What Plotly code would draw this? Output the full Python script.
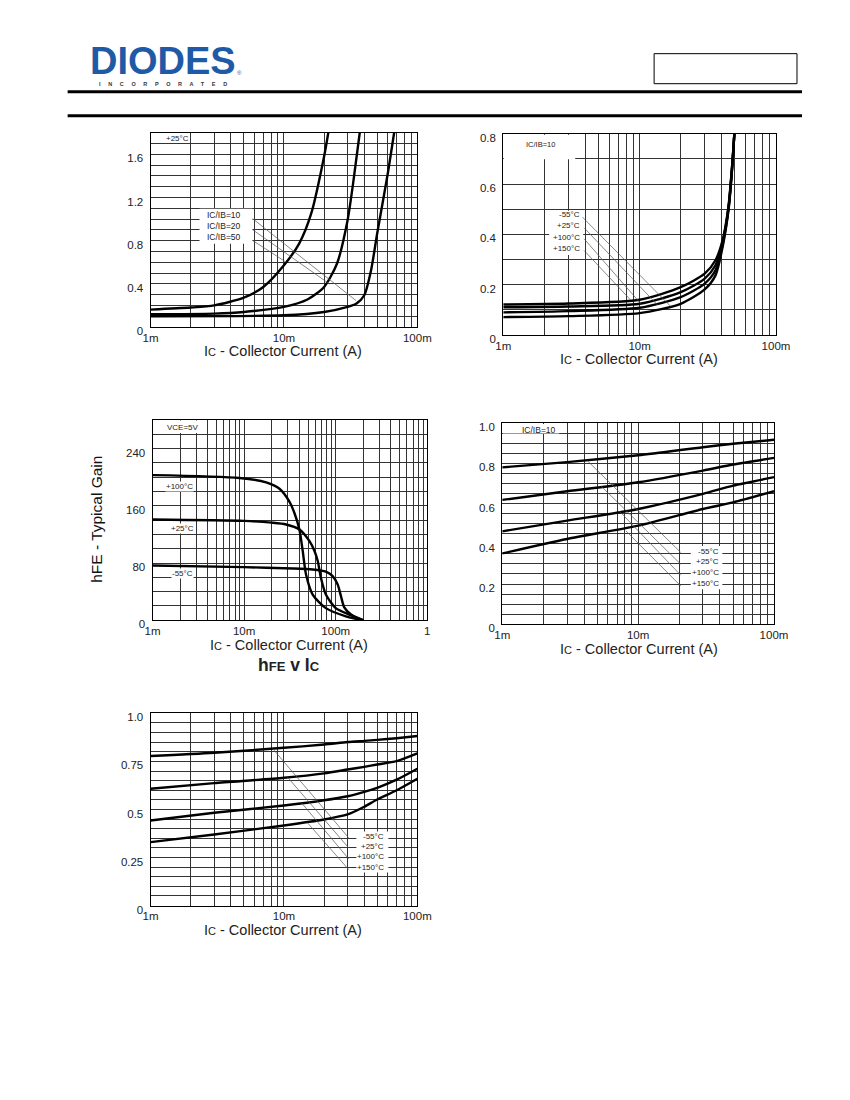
import plotly.graph_objects as go

W, H = 850, 1100

# ---- collector current points (mA) and read-off values ----
# VCE(sat) v IC at +25C, one curve per IC/IB ratio
sat_ic50_ma = [1, 2, 3, 5, 7, 10, 13, 16, 20, 21.5]
sat_ic50_v = [0.161, 0.18, 0.2, 0.272, 0.371, 0.572, 0.773, 1.05, 1.58, 1.8]
sat_ic20_ma = [1, 3, 5, 10, 15, 20, 25, 30, 33, 37]
sat_ic20_v = [0.118, 0.124, 0.139, 0.186, 0.254, 0.371, 0.588, 0.99, 1.33, 1.8]
sat_ic10_ma = [1, 10, 20, 30, 35, 40, 45, 50, 60, 67]
sat_ic10_v = [0.099, 0.108, 0.139, 0.186, 0.217, 0.294, 0.526, 0.866, 1.42, 1.8]

# VCE(sat) v IC at IC/IB=10, per temperature
vce_ma = [1, 3, 10, 20, 30, 36, 40.6, 44.8, 47.6, 49.5]
vce_150 = [0.121, 0.125, 0.14, 0.19, 0.244, 0.297, 0.377, 0.51, 0.67, 0.8]
vce_100 = [0.11, 0.113, 0.124, 0.17, 0.224, 0.277, 0.37, 0.505, 0.665, 0.8]
vce_25 = [0.09, 0.095, 0.108, 0.15, 0.204, 0.257, 0.36, 0.50, 0.66, 0.8]
vce_m55 = [0.071, 0.075, 0.087, 0.124, 0.181, 0.237, 0.35, 0.495, 0.655, 0.8]

# hFE v IC, VCE=5V
hfe100_ma = [1, 8.9, 17.4, 24.3, 31.2, 35.4, 40.1, 43.6, 47.4, 56, 78, 129, 200]
hfe100 = [203, 199, 193, 184, 166, 150, 127, 97, 64, 36, 17, 5.6, 0]
hfe25_ma = [1, 10, 19.9, 28.7, 40.1, 51.5, 58.6, 63.6, 69, 78, 100, 140, 200]
hfe25 = [141, 139, 136.5, 134, 127, 111, 97, 83, 59, 36, 17, 8, 0]
hfem55_ma = [1, 10, 34, 56, 78, 92, 105, 114, 124, 147, 200]
hfem55 = [76.7, 74.3, 72.5, 71, 68, 62, 50, 33.7, 18, 8, 0]

# VBE(sat) v IC at IC/IB=10
vbesat_ma = [1, 3, 10, 30, 50, 100]
vbesat_m55 = [0.78, 0.806, 0.84, 0.88, 0.897, 0.917]
vbesat_25 = [0.618, 0.661, 0.706, 0.764, 0.794, 0.827]
vbesat_100 = [0.462, 0.515, 0.573, 0.648, 0.689, 0.731]
vbesat_150 = [0.352, 0.424, 0.49, 0.573, 0.606, 0.661]

# VBE(on) v IC
vbeon_ma = [1, 3, 10, 20, 30, 40, 50, 70, 100]
vbeon_m55 = [0.778, 0.795, 0.821, 0.838, 0.851, 0.857, 0.862, 0.871, 0.882]
vbeon_25 = [0.608, 0.637, 0.665, 0.688, 0.708, 0.722, 0.734, 0.752, 0.792]
vbeon_100 = [0.443, 0.483, 0.521, 0.548, 0.569, 0.592, 0.613, 0.655, 0.712]
vbeon_150 = [0.33, 0.37, 0.417, 0.448, 0.474, 0.514, 0.552, 0.6, 0.66]

TXT = '#222222'
FONT = 'Liberation Sans, Arial, sans-serif'
BLUE = '#1f5aa6'

# the photographed page comes out slightly squeezed; positions below are
# given in page pixels and mapped back through this correction
SX, CX = 0.975, 8.3
SY, CY = 0.988, 3.4


def px(x):
    return (x - CX) / SX / W


def py(y):
    return 1 - (y - CY) / SY / H


fig = go.Figure()


def add_curve(ic_ma, vals, n):
    fig.add_trace(go.Scatter(
        x=[i / 1000 for i in ic_ma], y=vals, mode='lines',
        line=dict(color='black', width=2.4, shape='spline', smoothing=0.7),
        xaxis='x' + n, yaxis='y' + n, hoverinfo='skip'))


add_curve(sat_ic50_ma, sat_ic50_v, '')
add_curve(sat_ic20_ma, sat_ic20_v, '')
add_curve(sat_ic10_ma, sat_ic10_v, '')
for v in (vce_150, vce_100, vce_25, vce_m55):
    add_curve(vce_ma, v, '2')
add_curve(hfe100_ma, hfe100, '3')
add_curve(hfe25_ma, hfe25, '3')
add_curve(hfem55_ma, hfem55, '3')
for v in (vbesat_m55, vbesat_25, vbesat_100, vbesat_150):
    add_curve(vbesat_ma, v, '4')
for v in (vbeon_m55, vbeon_25, vbeon_100, vbeon_150):
    add_curve(vbeon_ma, v, '5')


def log_axis(left, right, decades, labels, anchor):
    vals, text = [], []
    for i, e in enumerate(decades[:-1]):
        for k in range(1, 10):
            vals.append(k * 10.0 ** e)
            text.append(labels[i] if k == 1 else '')
    vals.append(10.0 ** decades[-1])
    text.append(labels[-1])
    return dict(type='log', domain=[px(left), px(right)], range=[decades[0], decades[-1]],
                tickvals=vals, ticktext=text, showgrid=True, gridcolor='#333', gridwidth=1,
                showline=True, mirror=True, linecolor='black', linewidth=1,
                ticks='', tickfont=dict(size=11.5, color=TXT, family=FONT),
                anchor=anchor, zeroline=False, fixedrange=True)


def lin_axis(top, bottom, rng, vals, text, minor, anchor):
    return dict(domain=[py(bottom), py(top)], range=rng, tickvals=vals, ticktext=text,
                showgrid=True, gridcolor='#333', gridwidth=1,
                minor=dict(dtick=minor, tick0=0, showgrid=True, gridcolor='#333', gridwidth=1),
                showline=True, mirror=True, linecolor='black', linewidth=1,
                ticks='', ticklabelshift=4, ticklabelstandoff=4,
                tickfont=dict(size=11.5, color=TXT, family=FONT),
                anchor=anchor, zeroline=False, fixedrange=True)


fig.update_layout(
    width=W, height=H, margin=dict(l=0, r=0, t=0, b=0),
    paper_bgcolor='white', plot_bgcolor='white', showlegend=False,
    font=dict(family=FONT, color=TXT),
    xaxis=log_axis(151, 418, [-3, -2, -1], ['1m', '10m', '100m'], 'y'),
    yaxis=lin_axis(134, 328, [0, 1.8], [0, 0.4, 0.8, 1.2, 1.6],
                   ['0', '0.4', '0.8', '1.2', '1.6'], 0.1, 'x'),
    xaxis2=log_axis(504, 777, [-3, -2, -1], ['1m', '10m', '100m'], 'y2'),
    yaxis2=lin_axis(135, 336, [0, 0.8], [0, 0.2, 0.4, 0.6, 0.8],
                    ['0', '0.2', '0.4', '0.6', '0.8'], 0.1, 'x2'),
    xaxis3=log_axis(153, 428, [-3, -2, -1, 0], ['1m', '10m', '100m', '1'], 'y3'),
    yaxis3=lin_axis(421, 621, [0, 280], [0, 80, 160, 240],
                    ['0', '80', '160', '240'], 20, 'x3'),
    xaxis4=log_axis(503, 775, [-3, -2, -1], ['1m', '10m', '100m'], 'y4'),
    yaxis4=lin_axis(424, 625, [0, 1.0], [0, 0.2, 0.4, 0.6, 0.8, 1.0],
                    ['0', '0.2', '0.4', '0.6', '0.8', '1.0'], 0.05, 'x4'),
    xaxis5=log_axis(151, 418, [-3, -2, -1], ['1m', '10m', '100m'], 'y5'),
    yaxis5=lin_axis(714, 906, [0, 1.0], [0, 0.25, 0.5, 0.75, 1.0],
                    ['0', '0.25', '0.5', '0.75', '1.0'], 0.05, 'x5'),
)

shapes = []
annots = []


def line(x0, y0, x1, y1, w=0.7, c='#555'):
    shapes.append(dict(type='line', xref='paper', yref='paper', x0=px(x0), y0=py(y0),
                       x1=px(x1), y1=py(y1), line=dict(color=c, width=w), layer='above'))


def white_box(x0, y0, x1, y1):
    shapes.append(dict(type='rect', xref='paper', yref='paper', x0=px(x0), y0=py(y0),
                       x1=px(x1), y1=py(y1), fillcolor='white', line=dict(width=0), layer='above'))


def text(x, y, s, size=8, xanchor='center', color=TXT, bg=None, angle=0):
    a = dict(xref='paper', yref='paper', x=px(x), y=py(y), text=s, showarrow=False,
             xanchor=xanchor, yanchor='middle', textangle=angle,
             font=dict(size=size, color=color, family=FONT))
    if bg:
        a['bgcolor'] = bg
        a['borderpad'] = 0
    annots.append(a)


# ---- header ----
text(163, 62, '<b>DIODES</b>', size=38, color=BLUE)
text(163, 85, '<b>I     N     C     O     R     P     O     R     A     T     E     D</b>', size=5.5, color='#333')
text(240, 74, '®', size=6, color=BLUE)
shapes.append(dict(type='rect', xref='paper', yref='paper', x0=px(655), y0=py(55), x1=px(798), y1=py(85),
                   line=dict(color='black', width=1)))
for yy in (93, 117):
    shapes.append(dict(type='line', xref='paper', yref='paper', x0=px(68), y0=py(yy), x1=px(803), y1=py(yy),
                       line=dict(color='black', width=3)))

IC_TITLE = "I<span style='font-size:11px'>C</span> - Collector Current (A)"

# ---- chart 1 ----
white_box(151.5, 134.5, 190, 143)
text(178, 140, '+25°C', size=8)
white_box(200, 210, 253, 245)
text(244, 216, 'IC/IB=10', size=8.5, xanchor='right')
text(244, 227, 'IC/IB=20', size=8.5, xanchor='right')
text(244, 238.5, 'IC/IB=50', size=8.5, xanchor='right')
line(253.3, 220, 356.7, 301.7)
line(253.3, 231, 330, 285)
line(253.3, 241.7, 286.7, 263.3)
text(284, 352, IC_TITLE, size=14.5)

# ---- chart 2 ----
white_box(504.5, 136, 576, 160.5)
text(541, 146, 'IC/IB=10', size=7.5)
white_box(550, 212, 584, 256)
for yy, s in zip((216, 227, 238.5, 250), ('-55°C', '+25°C', '+100°C', '+150°C')):
    text(583, yy, s, size=8, xanchor='right')
line(583.3, 218.3, 671.7, 307.6)
line(585, 229, 658.3, 306)
line(585, 240, 641.7, 304.8)
line(585, 251.7, 631.7, 301.3)
text(640, 360, IC_TITLE, size=14.5)

# ---- chart 3 ----
white_box(153.5, 421.5, 203, 434)
text(183, 428, 'VCE=5V', size=8)
text(180, 487, '+100°C', size=8, bg='white')
text(183, 529, '+25°C', size=8, bg='white')
text(183, 574, '-55°C', size=8, bg='white')
text(290, 646, IC_TITLE, size=14.5)
text(290, 666, "<b>h<span style='font-size:13px'>FE</span> v I<span style='font-size:13px'>C</span></b>", size=17.5)
text(97, 520, "hFE - Typical Gain", size=15.5, angle=-90, color='#111')

# ---- chart 4 ----
white_box(503.5, 425, 560, 434.5)
text(540, 431, 'IC/IB=10', size=8.5)
white_box(691.7, 546.7, 723.3, 590)
for yy, s in zip((552.3, 562.5, 573, 584.5), ('-55°C', '+25°C', '+100°C', '+150°C')):
    text(721.5, yy, s, size=8, xanchor='right')
line(588.3, 461.7, 681.7, 553.3)
line(601.7, 486.7, 681.7, 565)
line(620, 511.7, 681.7, 576)
line(626.7, 531.7, 681.7, 586.7)
text(640, 650, IC_TITLE, size=14.5)

# ---- chart 5 ----
white_box(357, 832, 389, 873)
for yy, s in zip((836.7, 846.7, 857.3, 867.7), ('-55°C', '+25°C', '+100°C', '+150°C')):
    text(387, yy, s, size=8, xanchor='right')
line(273.3, 749.3, 349.3, 838.3)
line(288.3, 778, 349.3, 848.3)
line(302.2, 803.5, 349.3, 859.3)
line(307.8, 823, 349.3, 870)
text(284, 930, IC_TITLE, size=14.5)

fig.update_layout(shapes=shapes, annotations=annots)

fig.write_html('out.html', config={'displayModeBar': False},
               post_script="document.body.style.margin='0';document.body.style.overflow='hidden';")
